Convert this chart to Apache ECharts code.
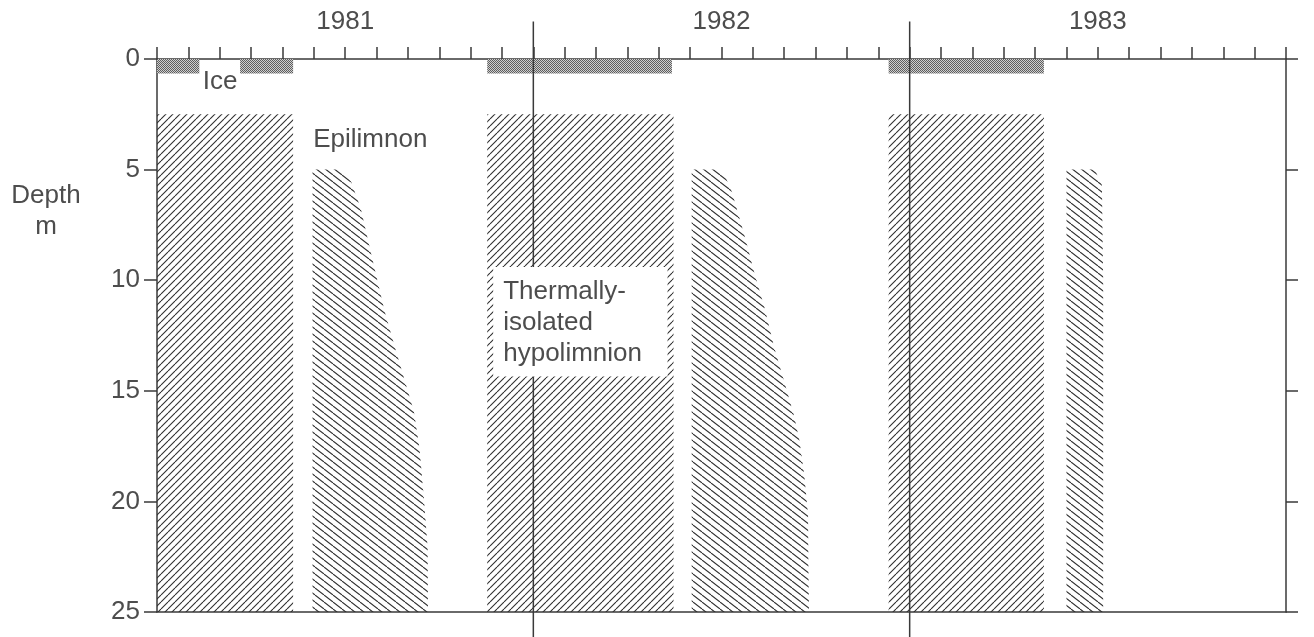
<!DOCTYPE html>
<html>
<head>
<meta charset="utf-8">
<title>Mixing periods 1981-1983</title>
<script src="https://cdn.jsdelivr.net/npm/echarts@6/dist/echarts.min.js"></script>
<style>
    html, body { margin: 0; padding: 0; background: #fff; }
    #main { width: 1314px; height: 637px; }
</style>
</head>
<body>
<div id="main"></div>
<script>
    // x in months from 1 Jan 1981, y = depth in m
    const yearLabels = ['1981', '1982', '1983'];
    const yearMid = [6, 18, 30];
    const yearLines = [12, 24];
    const maxDepth = 25;

    // ice cover (start, end month), thickness in m
    const iceSpans = [[0, 1.35], [2.65, 4.34], [10.53, 16.42], [23.33, 28.28]];
    const iceDepth = 0.65;

    // spring overturn (full circulation below the epilimnion), start/end month
    const springMix = [[0, 4.34], [10.53, 16.47], [23.33, 28.28]];
    const springTop = 2.5;

    // autumn circulation outlines [month, depth]
    const autumn1981 = [[4.96, 25], [4.96, 5], [5.85, 5], [6.19, 5.55], [6.5, 6.77], [6.74, 8.26],
        [6.99, 9.79], [7.26, 11.42], [7.57, 12.95], [7.88, 14.44], [8.19, 15.93], [8.37, 17.6],
        [8.51, 19.86], [8.63, 22.11], [8.64, 25]];
    const autumn1982 = [[17.05, 25], [17.05, 5], [17.8, 5], [18.08, 5.19], [18.33, 6.0], [18.55, 7.08],
        [18.76, 8.12], [19.07, 9.79], [19.38, 11.28], [19.69, 13.09], [20.0, 14.58], [20.31, 16.11],
        [20.49, 17.28], [20.64, 18.82], [20.76, 20.62], [20.77, 22.88], [20.79, 25]];
    const autumn1983 = [[29.0, 25], [29.0, 5], [29.9, 5], [30.13, 5.7], [30.17, 10], [30.17, 25]];

    // white panel behind the hypolimnion note: [x0, x1, d0, d1]
    const noteBox = [10.72, 16.28, 9.4, 14.35];

    // text notes: [text, month, depth, align]
    const notes = [
        ['Ice', 2.01, 1.04, 'center'],
        ['Epilimnon', 4.98, 3.66, 'left'],
        ['Thermally-\nisolated\nhypolimnion', 11.04, 11.93, 'left'],
        ['Depth\nm', -3.54, 6.9, 'center']
    ];

    const FONT = '"Liberation Sans", Arial, sans-serif';
    const TEXT = '#4d4d4d';
    const LINE = '#3a3a3a';

    function makeHatch(w, h, dir) {
        const c = document.createElement('canvas');
        c.width = w;
        c.height = h;
        const g = c.getContext('2d');
        g.strokeStyle = '#2e2e2e';
        g.lineWidth = 1.1;
        [-w, 0, w].forEach(dx => {
            g.beginPath();
            if (dir === '/') {
                g.moveTo(dx, h);
                g.lineTo(dx + w, 0);
            } else {
                g.moveTo(dx, 0);
                g.lineTo(dx + w, h);
            }
            g.stroke();
        });
        return c;
    }

    function makeIce() {
        const c = document.createElement('canvas');
        c.width = 4;
        c.height = 4;
        const g = c.getContext('2d');
        g.fillStyle = '#cfcfcf';
        g.fillRect(0, 0, 4, 4);
        g.fillStyle = '#5e5e5e';
        [[0, 0], [2, 0], [1, 1], [3, 1], [0, 2], [2, 2], [1, 3], [3, 3]].forEach(p => g.fillRect(p[0], p[1], 1, 1));
        return c;
    }

    const hatchUp = { image: makeHatch(7, 7, '/'), repeat: 'repeat' };
    const hatchDown = { image: makeHatch(9, 7, '\\'), repeat: 'repeat' };
    const icePattern = { image: makeIce(), repeat: 'repeat' };

    const chart = echarts.init(document.getElementById('main'));

    const rectSeries = (name, spans, d0, d1, fill, z) => ({
        name: name,
        type: 'custom',
        xAxisIndex: 0,
        yAxisIndex: 0,
        z: z,
        data: spans.map((s, i) => [i]),
        renderItem: (params, api) => {
            const s = spans[params.dataIndex];
            const p0 = api.coord([s[0], d0]);
            const p1 = api.coord([s[1], d1]);
            return {
                type: 'rect',
                shape: { x: p0[0], y: p0[1], width: p1[0] - p0[0], height: p1[1] - p0[1] },
                style: { fill: fill }
            };
        }
    });

    const autumnShapes = [autumn1981, autumn1982, autumn1983];
    const axisLine = { show: true, onZero: false, lineStyle: { color: LINE, width: 1.5 } };

    chart.setOption({
        animation: false,
        backgroundColor: '#fff',
        grid: { left: 157, right: 28, top: 59, bottom: 25 },
        xAxis: [
            {
                type: 'value', position: 'top', min: 0, max: 36, interval: 1,
                axisLine: axisLine,
                axisTick: { show: true, inside: false, length: 12, lineStyle: { color: LINE, width: 1.5 } },
                axisLabel: {
                    show: true, margin: 24, fontSize: 26, fontFamily: FONT, color: TEXT,
                    formatter: v => {
                        const k = yearMid.indexOf(v);
                        return k >= 0 ? yearLabels[k] : '';
                    }
                },
                splitLine: { show: false }
            },
            {
                type: 'value', position: 'bottom', min: 0, max: 36,
                axisLine: axisLine,
                axisTick: { show: false }, axisLabel: { show: false }, splitLine: { show: false }
            }
        ],
        yAxis: [
            {
                type: 'value', inverse: true, min: 0, max: maxDepth, interval: 5, position: 'left',
                axisLine: axisLine,
                axisTick: { show: true, inside: false, length: 13, lineStyle: { color: LINE, width: 1.5 } },
                axisLabel: { show: true, margin: 17, fontSize: 26, fontFamily: FONT, color: TEXT },
                splitLine: { show: false }
            },
            {
                type: 'value', inverse: true, min: 0, max: maxDepth, interval: 5, position: 'right',
                axisLine: axisLine,
                axisTick: { show: true, inside: false, length: 12, lineStyle: { color: LINE, width: 1.5 } },
                axisLabel: { show: false },
                splitLine: { show: false }
            }
        ],
        series: [
            rectSeries('Ice', iceSpans, 0, iceDepth, icePattern, 3),
            rectSeries('Spring circulation', springMix, springTop, maxDepth, hatchUp, 2),
            {
                name: 'Autumn circulation',
                type: 'custom',
                z: 2,
                data: autumnShapes.map((s, i) => [i]),
                renderItem: (params, api) => ({
                    type: 'polygon',
                    shape: { points: autumnShapes[params.dataIndex].map(p => api.coord(p)) },
                    style: { fill: hatchDown }
                })
            },
            {
                name: 'Year boundaries',
                type: 'custom',
                z: 4,
                clip: false,
                data: yearLines.map(v => [v]),
                renderItem: (params, api) => {
                    const x = yearLines[params.dataIndex];
                    const a = api.coord([x, -1.7]);
                    const b = api.coord([x, 27]);
                    return {
                        type: 'line',
                        shape: { x1: a[0], y1: a[1], x2: b[0], y2: b[1] },
                        style: { stroke: LINE, lineWidth: 1.5 }
                    };
                }
            },
            {
                name: 'Note panel',
                type: 'custom',
                z: 5,
                data: [[0]],
                renderItem: (params, api) => {
                    const p0 = api.coord([noteBox[0], noteBox[2]]);
                    const p1 = api.coord([noteBox[1], noteBox[3]]);
                    return {
                        type: 'rect',
                        shape: { x: p0[0], y: p0[1], width: p1[0] - p0[0], height: p1[1] - p0[1] },
                        style: { fill: '#fff' }
                    };
                }
            },
            {
                name: 'Notes',
                type: 'custom',
                z: 6,
                clip: false,
                data: notes.map((n, i) => [i]),
                renderItem: (params, api) => {
                    const n = notes[params.dataIndex];
                    const p = api.coord([n[1], n[2]]);
                    return {
                        type: 'text',
                        x: p[0],
                        y: p[1],
                        style: {
                            text: n[0],
                            fill: TEXT,
                            font: '26px ' + FONT,
                            align: n[3],
                            verticalAlign: 'middle',
                            lineHeight: 31
                        }
                    };
                }
            }
        ]
    });
</script>
</body>
</html>
